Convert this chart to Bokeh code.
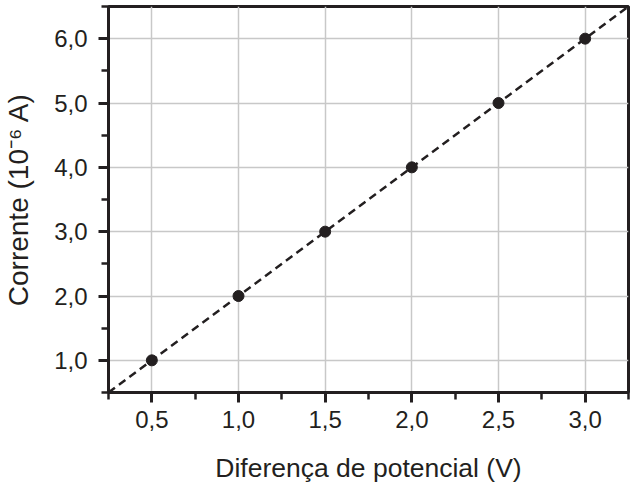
import numpy as np
from bokeh.plotting import figure
from bokeh.models import Range1d, FixedTicker, CustomJSTickFormatter
from bokeh.embed import file_html
from bokeh.resources import INLINE

# medidas: diferença de potencial (V) e corrente (10^-6 A)
tensao = [0.5, 1.0, 1.5, 2.0, 2.5, 3.0]
corrente = [1.0, 2.0, 3.0, 4.0, 5.0, 6.0]

x_major = [0.5, 1.0, 1.5, 2.0, 2.5, 3.0]
x_minor = [0.25, 0.75, 1.25, 1.75, 2.25, 2.75, 3.25]
y_major = [1.0, 2.0, 3.0, 4.0, 5.0, 6.0]
y_minor = [0.5, 1.5, 2.5, 3.5, 4.5, 5.5, 6.5]

INK = "#231f20"
FONT = "Liberation Sans"

p = figure(frame_width=520, frame_height=386, width=631, height=485,
           x_range=Range1d(0.25, 3.25), y_range=Range1d(0.5, 6.5),
           output_backend="svg", toolbar_location=None, tools="",
           min_border_left=107, min_border_top=6, min_border_right=4,
           x_axis_label="Diferença de potencial (V)",
           y_axis_label="Corrente (10⁻⁶ A)")

p.outline_line_color = INK
p.outline_line_width = 3
p.background_fill_color = "white"
p.border_fill_color = "white"

p.xaxis.ticker = FixedTicker(ticks=x_major, minor_ticks=x_minor)
p.yaxis.ticker = FixedTicker(ticks=y_major, minor_ticks=y_minor)
fmt = CustomJSTickFormatter(code="return tick.toFixed(1).replace('.', ',');")
p.xaxis.formatter = fmt
p.yaxis.formatter = fmt

for ax in (p.xaxis, p.yaxis):
    ax.axis_line_color = INK
    ax.axis_line_width = 3
    ax.major_tick_line_color = INK
    ax.major_tick_line_width = 3
    ax.major_tick_out = 10
    ax.major_tick_in = 0
    ax.minor_tick_line_color = INK
    ax.minor_tick_line_width = 2.5
    ax.minor_tick_out = 7
    ax.minor_tick_in = 0
    ax.major_label_text_font = FONT
    ax.major_label_text_font_size = "24px"
    ax.major_label_text_color = INK
    ax.axis_label_text_font = FONT
    ax.axis_label_text_font_style = "normal"
    ax.axis_label_text_color = INK

p.xaxis.major_label_standoff = 8
p.yaxis.major_label_standoff = 11
p.xaxis.axis_label_text_font_size = "26.5px"
p.yaxis.axis_label_text_font_size = "28px"
p.xaxis.axis_label_standoff = 22
p.yaxis.axis_label_standoff = 17

p.grid.grid_line_color = "#c8c8c8"
p.grid.grid_line_width = 1.5
p.xgrid.ticker = FixedTicker(ticks=x_major)
p.ygrid.ticker = FixedTicker(ticks=y_major)

# reta ajustada aos pontos, prolongada até os limites do gráfico
a, b = np.polyfit(tensao, corrente, 1)
xs = np.array([p.x_range.start, p.x_range.end])
p.line(xs, a * xs + b, line_color=INK, line_width=2.5, line_dash="8 5")

p.scatter(tensao, corrente, size=11, fill_color=INK, line_color=INK)

open("out.html", "w").write(file_html(p, INLINE))
